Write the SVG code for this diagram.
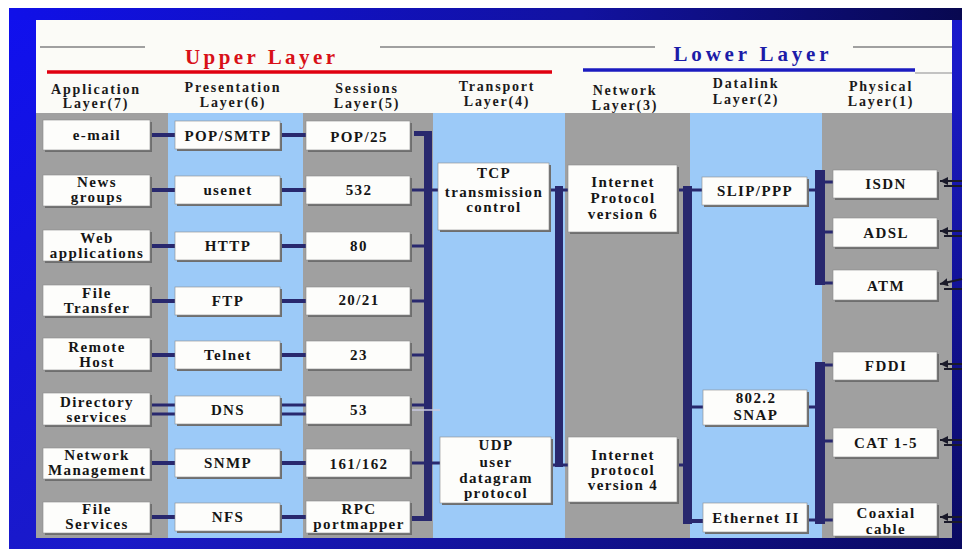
<svg xmlns="http://www.w3.org/2000/svg" width="966" height="549" viewBox="0 0 966 549">
<style>
text{font-family:"Liberation Serif","Times New Roman",serif;font-weight:bold;fill:#151515;text-anchor:middle}
.t{font-size:15px;letter-spacing:1.4px}
.h{font-size:14px;letter-spacing:1.8px;fill:#1a1a1a}
.sh{fill:#6e6e6e}
.bx{fill:#fdfdfb;stroke:#8a8a8a;stroke-width:0.6}
.gray{fill:#a0a0a0}
.lb{fill:#9ccaf8}
.c{stroke:#28286e;stroke-width:4;fill:none}
.c2{stroke:#28286e;stroke-width:3;fill:none}
.bus{fill:#28286e}
.ar{stroke:#1a1a2a;stroke-width:2;fill:none}
</style>
<defs>
<linearGradient id="frame" x1="0" y1="0" x2="1" y2="1">
<stop offset="0" stop-color="#1010ee"/>
<stop offset="0.55" stop-color="#1a1ac8"/>
<stop offset="1" stop-color="#0a0a60"/>
</linearGradient>
<linearGradient id="top" x1="0" y1="0" x2="1" y2="0">
<stop offset="0" stop-color="#1010e8"/>
<stop offset="0.6" stop-color="#1212a0"/>
<stop offset="1" stop-color="#080850"/>
</linearGradient>
<marker id="ah" viewBox="0 0 10 10" refX="0" refY="5" markerWidth="4" markerHeight="4" orient="auto">
<path d="M0,5 L10,0 L10,10 Z" fill="#1a1a2a"/>
</marker>
</defs>
<rect x="0" y="0" width="966" height="549" fill="#ffffff"/>
<rect x="9" y="8" width="953" height="541" fill="url(#frame)"/>
<rect x="9" y="8" width="953" height="12" fill="url(#top)"/>
<rect x="36" y="20" width="916" height="518" fill="#fbfbf7"/>

<!-- column backgrounds -->
<rect class="gray" x="36" y="113" width="132" height="425"/>
<rect class="lb" x="168" y="113" width="135" height="425"/>
<rect class="gray" x="303" y="113" width="130" height="425"/>
<rect class="lb" x="433" y="113" width="132" height="425"/>
<rect class="gray" x="565" y="113" width="125" height="425"/>
<rect class="lb" x="690" y="113" width="132" height="425"/>
<rect class="gray" x="822" y="113" width="130" height="425"/>

<!-- header -->
<g id="header">
<line x1="40" y1="47" x2="145" y2="47" stroke="#a0a0a0" stroke-width="2"/>
<line x1="380" y1="47" x2="655" y2="47" stroke="#a0a0a0" stroke-width="2"/>
<line x1="853" y1="47" x2="952" y2="47" stroke="#a0a0a0" stroke-width="2"/>
<line x1="915" y1="73" x2="952" y2="73" stroke="#b0b0b0" stroke-width="1.5"/>
<text x="260" y="64" style="font-size:21px;fill:#d81018" textLength="150" lengthAdjust="spacing">Upper Layer</text>
<line x1="47" y1="72" x2="552" y2="72" stroke="#e00010" stroke-width="3.5"/>
<text x="751" y="61" style="font-size:21px;fill:#1c1ca8" textLength="155" lengthAdjust="spacing">Lower Layer</text>
<line x1="583" y1="70" x2="915" y2="70" stroke="#1c1cc0" stroke-width="3.5"/>
<text class="h" x="96" y="94">Application</text><text class="h" x="96" y="108">Layer(7)</text>
<text class="h" x="233" y="92">Presentation</text><text class="h" x="233" y="107">Layer(6)</text>
<text class="h" x="367" y="93">Sessions</text><text class="h" x="367" y="108">Layer(5)</text>
<text class="h" x="497" y="91">Transport</text><text class="h" x="497" y="106">Layer(4)</text>
<text class="h" x="625" y="95">Network</text><text class="h" x="625" y="110">Layer(3)</text>
<text class="h" x="746" y="88">Datalink</text><text class="h" x="746" y="104">Layer(2)</text>
<text class="h" x="881" y="91">Physical</text><text class="h" x="881" y="106">Layer(1)</text>
</g>

<!-- connectors -->
<g id="connectors">
<line class="c" x1="150" y1="135" x2="175" y2="135"/>
<line class="c" x1="150" y1="190" x2="175" y2="190"/>
<line class="c" x1="150" y1="246" x2="175" y2="246"/>
<line class="c" x1="150" y1="301" x2="175" y2="301"/>
<line class="c" x1="150" y1="355" x2="175" y2="355"/>
<line class="c2" x1="150" y1="405" x2="175" y2="405"/>
<line class="c2" x1="150" y1="414" x2="175" y2="414"/>
<line class="c" x1="150" y1="463" x2="175" y2="463"/>
<line class="c" x1="150" y1="517" x2="175" y2="517"/>

<line class="c" x1="280" y1="135" x2="306" y2="135"/>
<line class="c" x1="280" y1="190" x2="306" y2="190"/>
<line class="c" x1="280" y1="246" x2="306" y2="246"/>
<line class="c" x1="280" y1="301" x2="306" y2="301"/>
<line class="c" x1="280" y1="355" x2="306" y2="355"/>
<line class="c2" x1="280" y1="405" x2="306" y2="405"/>
<line class="c2" x1="280" y1="414" x2="306" y2="414"/>
<line class="c" x1="280" y1="463" x2="306" y2="463"/>
<line class="c" x1="280" y1="517" x2="306" y2="517"/>

<rect class="bus" x="424" y="131" width="8" height="390"/>
<rect class="bus" x="414" y="131" width="12" height="5"/>
<rect class="bus" x="412" y="516" width="14" height="5"/>
<line class="c2" x1="410" y1="190" x2="438" y2="190"/>
<line class="c2" x1="410" y1="246" x2="425" y2="246"/>
<line class="c2" x1="410" y1="301" x2="425" y2="301"/>
<line class="c2" x1="410" y1="355" x2="425" y2="355"/>
<line class="c2" x1="410" y1="405" x2="425" y2="405"/>
<line stroke="#c8c8e0" stroke-width="1.5" x1="410" y1="410" x2="440" y2="410"/>
<line class="c2" x1="410" y1="463" x2="440" y2="463"/>

<rect class="bus" x="555" y="186" width="8" height="281"/>
<line class="c2" x1="549" y1="190" x2="568" y2="190"/>
<line class="c2" x1="551" y1="465" x2="568" y2="465"/>

<rect class="bus" x="683" y="186" width="9" height="338"/>
<line class="c2" x1="677" y1="190" x2="702" y2="190"/>
<line class="c2" x1="692" y1="407" x2="703" y2="407"/>
<line class="c" x1="692" y1="521" x2="703" y2="521"/>
<line class="c2" x1="677" y1="465" x2="683" y2="465"/>

<rect class="bus" x="815" y="170" width="10" height="115"/>
<line class="c2" x1="807" y1="190" x2="815" y2="190"/>
<line class="c2" x1="825" y1="182" x2="833" y2="182"/>
<line class="c2" x1="825" y1="232" x2="833" y2="232"/>
<line class="c2" x1="825" y1="283" x2="833" y2="283"/>

<rect class="bus" x="815" y="362" width="10" height="162"/>
<line class="c2" x1="825" y1="365" x2="833" y2="365"/>
<line class="c2" x1="807" y1="407" x2="815" y2="407"/>
<line class="c2" x1="825" y1="441" x2="833" y2="441"/>
<line class="c2" x1="825" y1="520" x2="833" y2="520"/>
<line class="c2" x1="807" y1="520" x2="815" y2="520"/>

<line class="ar" x1="940" y1="181" x2="962" y2="181" marker-start="url(#ah)"/>
<line class="ar" x1="944" y1="186" x2="962" y2="186"/>
<line class="ar" x1="940" y1="231" x2="962" y2="231" marker-start="url(#ah)"/>
<line class="ar" x1="944" y1="236" x2="962" y2="236"/>
<line class="ar" x1="940" y1="284" x2="962" y2="279" marker-start="url(#ah)"/>
<line class="ar" x1="944" y1="289" x2="962" y2="289"/>
<line class="ar" x1="940" y1="364" x2="962" y2="364" marker-start="url(#ah)"/>
<line class="ar" x1="944" y1="369" x2="962" y2="369"/>
<line class="ar" x1="940" y1="440" x2="962" y2="440" marker-start="url(#ah)"/>
<line class="ar" x1="944" y1="445" x2="962" y2="445"/>
<line class="ar" x1="940" y1="517" x2="962" y2="517" marker-start="url(#ah)"/>
<line class="ar" x1="944" y1="522" x2="962" y2="522"/>
</g>

<!-- Application layer nodes -->
<g id="app-email"><rect class="sh" x="45" y="122" width="107" height="30"/><rect class="bx" x="43" y="120" width="107" height="30"/><text class="t" x="97" y="140">e-mail</text></g>
<g id="app-news"><rect class="sh" x="45" y="177" width="107" height="31"/><rect class="bx" x="43" y="175" width="107" height="31"/><text class="t" x="97" y="187">News</text><text class="t" x="97" y="202">groups</text></g>
<g id="app-web"><rect class="sh" x="45" y="232" width="107" height="31"/><rect class="bx" x="43" y="230" width="107" height="31"/><text class="t" x="97" y="243">Web</text><text class="t" x="97" y="258">applications</text></g>
<g id="app-ft"><rect class="sh" x="45" y="287" width="107" height="31"/><rect class="bx" x="43" y="285" width="107" height="31"/><text class="t" x="97" y="298">File</text><text class="t" x="97" y="313">Transfer</text></g>
<g id="app-remote"><rect class="sh" x="45" y="340" width="107" height="32"/><rect class="bx" x="43" y="338" width="107" height="32"/><text class="t" x="97" y="352">Remote</text><text class="t" x="97" y="367">Host</text></g>
<g id="app-dir"><rect class="sh" x="45" y="395" width="107" height="32"/><rect class="bx" x="43" y="393" width="107" height="32"/><text class="t" x="97" y="407">Directory</text><text class="t" x="97" y="422">services</text></g>
<g id="app-nm"><rect class="sh" x="45" y="450" width="107" height="31"/><rect class="bx" x="43" y="448" width="107" height="31"/><text class="t" x="97" y="460">Network</text><text class="t" x="97" y="475">Management</text></g>
<g id="app-fs"><rect class="sh" x="45" y="504" width="107" height="31"/><rect class="bx" x="43" y="502" width="107" height="31"/><text class="t" x="97" y="514">File</text><text class="t" x="97" y="529">Services</text></g>

<!-- Presentation layer nodes -->
<g id="pres-pop"><rect class="sh" x="177" y="123" width="105" height="28"/><rect class="bx" x="175" y="121" width="105" height="28"/><text class="t" x="228" y="141">POP/SMTP</text></g>
<g id="pres-usenet"><rect class="sh" x="177" y="178" width="105" height="28"/><rect class="bx" x="175" y="176" width="105" height="28"/><text class="t" x="228" y="195">usenet</text></g>
<g id="pres-http"><rect class="sh" x="177" y="234" width="105" height="28"/><rect class="bx" x="175" y="232" width="105" height="28"/><text class="t" x="228" y="251">HTTP</text></g>
<g id="pres-ftp"><rect class="sh" x="177" y="289" width="105" height="28"/><rect class="bx" x="175" y="287" width="105" height="28"/><text class="t" x="228" y="306">FTP</text></g>
<g id="pres-telnet"><rect class="sh" x="177" y="343" width="105" height="28"/><rect class="bx" x="175" y="341" width="105" height="28"/><text class="t" x="228" y="360">Telnet</text></g>
<g id="pres-dns"><rect class="sh" x="177" y="398" width="105" height="28"/><rect class="bx" x="175" y="396" width="105" height="28"/><text class="t" x="228" y="415">DNS</text></g>
<g id="pres-snmp"><rect class="sh" x="177" y="451" width="105" height="28"/><rect class="bx" x="175" y="449" width="105" height="28"/><text class="t" x="228" y="468">SNMP</text></g>
<g id="pres-nfs"><rect class="sh" x="177" y="505" width="105" height="28"/><rect class="bx" x="175" y="503" width="105" height="28"/><text class="t" x="228" y="522">NFS</text></g>

<!-- Session layer nodes -->
<g id="sess-pop25"><rect class="sh" x="308" y="123" width="104" height="29"/><rect class="bx" x="306" y="121" width="104" height="29"/><text class="t" x="359" y="142">POP/25</text></g>
<g id="sess-532"><rect class="sh" x="308" y="178" width="104" height="28"/><rect class="bx" x="306" y="176" width="104" height="28"/><text class="t" x="359" y="195">532</text></g>
<g id="sess-80"><rect class="sh" x="308" y="234" width="104" height="28"/><rect class="bx" x="306" y="232" width="104" height="28"/><text class="t" x="359" y="251">80</text></g>
<g id="sess-2021"><rect class="sh" x="308" y="289" width="104" height="28"/><rect class="bx" x="306" y="287" width="104" height="28"/><text class="t" x="359" y="305">20/21</text></g>
<g id="sess-23"><rect class="sh" x="308" y="343" width="104" height="28"/><rect class="bx" x="306" y="341" width="104" height="28"/><text class="t" x="359" y="360">23</text></g>
<g id="sess-53"><rect class="sh" x="308" y="398" width="104" height="28"/><rect class="bx" x="306" y="396" width="104" height="28"/><text class="t" x="359" y="415">53</text></g>
<g id="sess-161"><rect class="sh" x="308" y="451" width="104" height="28"/><rect class="bx" x="306" y="449" width="104" height="28"/><text class="t" x="359" y="469">161/162</text></g>
<g id="sess-rpc"><rect class="sh" x="308" y="503" width="104" height="32"/><rect class="bx" x="306" y="501" width="104" height="32"/><text class="t" x="359" y="514">RPC</text><text class="t" x="359" y="529">portmapper</text></g>

<!-- Transport -->
<g id="tcp"><rect class="sh" x="440" y="165" width="111" height="67"/><rect class="bx" x="438" y="163" width="111" height="67"/><text class="t" x="494" y="178">TCP</text><text class="t" x="494" y="197">transmission</text><text class="t" x="494" y="212">control</text></g>
<g id="udp"><rect class="sh" x="442" y="439" width="111" height="66"/><rect class="bx" x="440" y="437" width="111" height="66"/><text class="t" x="496" y="450">UDP</text><text class="t" x="496" y="467">user</text><text class="t" x="496" y="483">datagram</text><text class="t" x="496" y="498">protocol</text></g>

<!-- Network -->
<g id="ipv6"><rect class="sh" x="570" y="167" width="109" height="67"/><rect class="bx" x="568" y="165" width="109" height="67"/><text class="t" x="623" y="187">Internet</text><text class="t" x="623" y="203">Protocol</text><text class="t" x="623" y="219">version 6</text></g>
<g id="ipv4"><rect class="sh" x="570" y="439" width="109" height="65"/><rect class="bx" x="568" y="437" width="109" height="65"/><text class="t" x="623" y="460">Internet</text><text class="t" x="623" y="475">protocol</text><text class="t" x="623" y="490">version 4</text></g>

<!-- Datalink -->
<g id="slip"><rect class="sh" x="704" y="179" width="105" height="28"/><rect class="bx" x="702" y="177" width="105" height="28"/><text class="t" x="755" y="196">SLIP/PPP</text></g>
<g id="snap"><rect class="sh" x="705" y="392" width="104" height="35"/><rect class="bx" x="703" y="390" width="104" height="35"/><text class="t" x="756" y="403">802.2</text><text class="t" x="756" y="420">SNAP</text></g>
<g id="eth"><rect class="sh" x="705" y="505" width="104" height="29"/><rect class="bx" x="703" y="503" width="104" height="29"/><text class="t" x="756" y="523">Ethernet II</text></g>

<!-- Physical -->
<g id="isdn"><rect class="sh" x="835" y="172" width="104" height="28"/><rect class="bx" x="833" y="170" width="104" height="28"/><text class="t" x="886" y="189">ISDN</text></g>
<g id="adsl"><rect class="sh" x="835" y="220" width="104" height="29"/><rect class="bx" x="833" y="218" width="104" height="29"/><text class="t" x="886" y="238">ADSL</text></g>
<g id="atm"><rect class="sh" x="835" y="272" width="104" height="30"/><rect class="bx" x="833" y="270" width="104" height="30"/><text class="t" x="886" y="291">ATM</text></g>
<g id="fddi"><rect class="sh" x="835" y="354" width="104" height="28"/><rect class="bx" x="833" y="352" width="104" height="28"/><text class="t" x="886" y="371">FDDI</text></g>
<g id="cat"><rect class="sh" x="835" y="430" width="104" height="29"/><rect class="bx" x="833" y="428" width="104" height="29"/><text class="t" x="886" y="448">CAT 1-5</text></g>
<g id="coax"><rect class="sh" x="835" y="505" width="104" height="33"/><rect class="bx" x="833" y="503" width="104" height="33"/><text class="t" x="886" y="518">Coaxial</text><text class="t" x="886" y="534">cable</text></g>
</svg>
